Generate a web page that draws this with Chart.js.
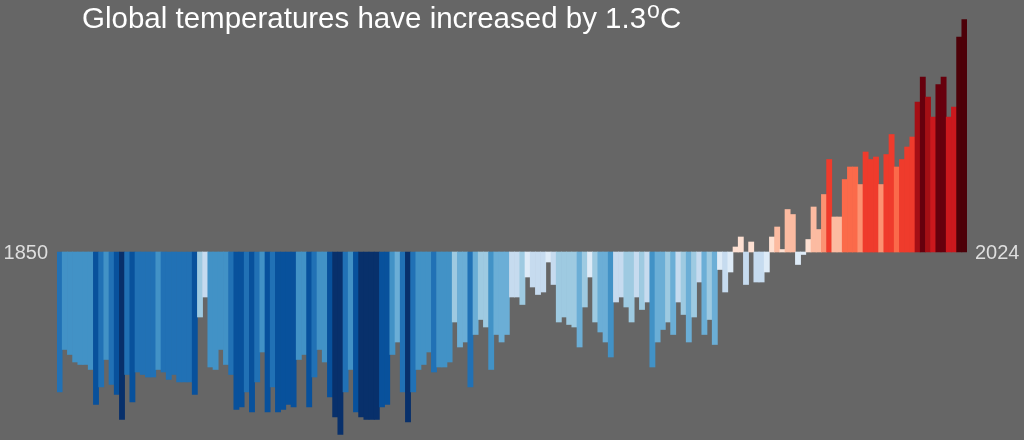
<!DOCTYPE html>
<html>
<head>
<meta charset="utf-8">
<script src="https://cdn.jsdelivr.net/npm/chart.js@4.4.1/dist/chart.umd.min.js"></script>
<style>
  html, body { margin: 0; padding: 0; background: #666666; }
  #wrap { position: relative; width: 1024px; height: 440px; }
  #title {
    position: absolute; left: 82px; top: 3px;
    color: #ffffff; font-family: "Liberation Sans", Arial, sans-serif;
    font-size: 29.5px; line-height: 1; white-space: nowrap;
  }
  #title sup {
    font-size: 23px; vertical-align: baseline;
    position: relative; top: -10px; margin-left: 1px;
  }
</style>
</head>
<body>
<div id="wrap">
  <canvas id="stripes" width="1024" height="440"></canvas>
  <div id="title">Global temperatures have increased by 1.3<sup>o</sup>C</div>
</div>
<script>
const firstYear = 1850
const lastYear = 2024
const edgeLabels = ['1850', '2024']

// annual anomalies, °C, 1850 -> 2024
const anomalies = [
  -0.56, -0.39, -0.41, -0.44, -0.45, -0.45, -0.47, -0.61, -0.54, -0.43,
  -0.53, -0.57, -0.67, -0.49, -0.60, -0.48, -0.49, -0.50, -0.50, -0.47,
  -0.48, -0.51, -0.49, -0.52, -0.52, -0.52, -0.57, -0.26, -0.18, -0.46,
  -0.47, -0.39, -0.45, -0.49, -0.63, -0.62, -0.56, -0.64, -0.52, -0.40,
  -0.64, -0.54, -0.64, -0.63, -0.61, -0.62, -0.43, -0.41, -0.62, -0.50,
  -0.39, -0.44, -0.58, -0.66, -0.73, -0.56, -0.47, -0.64, -0.66, -0.67,
  -0.67, -0.67, -0.62, -0.61, -0.41, -0.36, -0.56, -0.68, -0.56, -0.47,
  -0.45, -0.40, -0.48, -0.46, -0.46, -0.44, -0.28, -0.38, -0.36, -0.54,
  -0.33, -0.27, -0.30, -0.47, -0.33, -0.36, -0.33, -0.18, -0.18, -0.21,
  -0.10, -0.14, -0.17, -0.16, -0.04, -0.13, -0.28, -0.26, -0.29, -0.30,
  -0.38, -0.22, -0.10, -0.28, -0.32, -0.36, -0.42, -0.20, -0.18, -0.22,
  -0.28, -0.18, -0.23, -0.20, -0.46, -0.36, -0.31, -0.28, -0.33, -0.20,
  -0.25, -0.36, -0.26, -0.12, -0.33, -0.27, -0.37, -0.07, -0.16, -0.08,
  0.02, 0.06, -0.13, 0.04, -0.12, -0.12, -0.08, 0.06, 0.10, 0.01,
  0.17, 0.15, -0.05, -0.01, 0.05, 0.18, 0.09, 0.23, 0.37, 0.14,
  0.14, 0.29, 0.34, 0.34, 0.27, 0.40, 0.37, 0.38, 0.27, 0.39,
  0.47, 0.34, 0.37, 0.42, 0.46, 0.60, 0.70, 0.62, 0.54, 0.67,
  0.70, 0.54, 0.58, 0.86, 0.93
]

const years = []
for (let y = firstYear; y <= lastYear; y++) years.push(String(y))

const yMin = -0.732
const yMax = 0.936

const stripeColour = (v) => {
  if (v < 0) {
    if (v <= -0.655) return '#08306b'
    if (v <= -0.565) return '#08519c'
    if (v <= -0.475) return '#2171b5'
    if (v <= -0.385) return '#4292c6'
    if (v <= -0.305) return '#6baed6'
    if (v <= -0.205) return '#9ecae1'
    if (v <= -0.105) return '#c6dbef'
    return '#deebf7'
  }
  if (v < 0.08) return '#fee0d2'
  if (v < 0.2) return '#fcbba1'
  if (v < 0.28) return '#fc9272'
  if (v < 0.36) return '#fb6a4a'
  if (v < 0.5) return '#ef3b2c'
  if (v < 0.6) return '#cb181d'
  if (v < 0.66) return '#a50f15'
  if (v < 0.78) return '#67000d'
  return '#4d0008'
}

const edgeLabelPlugin = {
  id: 'edgeLabels',
  afterDraw(chart) {
    const { ctx, chartArea, scales } = chart
    const y = scales.y.getPixelForValue(0) + 1
    ctx.save()
    ctx.font = '20px "Liberation Sans", Arial, sans-serif'
    ctx.fillStyle = '#dedede'
    ctx.textBaseline = 'middle'
    ctx.textAlign = 'right'
    ctx.fillText(edgeLabels[0], chartArea.left - 9, y)
    ctx.textAlign = 'left'
    ctx.fillText(edgeLabels[1], chartArea.right + 8, y)
    ctx.restore()
  }
}

new Chart(document.getElementById('stripes'), {
  type: 'bar',
  data: {
    labels: years,
    datasets: [{
      data: anomalies,
      backgroundColor: anomalies.map(stripeColour),
      borderWidth: 0,
      barPercentage: 1,
      categoryPercentage: 1
    }]
  },
  options: {
    responsive: false,
    animation: false,
    layout: { padding: { left: 57, right: 57, top: 18, bottom: 5 } },
    plugins: {
      legend: { display: false },
      tooltip: { enabled: false }
    },
    scales: {
      x: { display: false },
      y: { display: false, min: yMin, max: yMax }
    }
  },
  plugins: [edgeLabelPlugin]
})
</script>
</body>
</html>
